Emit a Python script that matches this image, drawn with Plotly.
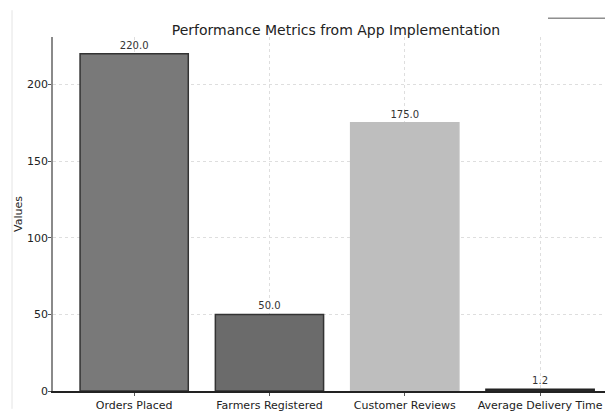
import plotly.graph_objects as go

categories = ["Orders Placed", "Farmers Registered", "Customer Reviews", "Average Delivery Time"]
values = [220.0, 50.0, 175.0, 1.2]
bar_colors = ["#797979", "#6b6b6b", "#bebebe", "#3a3a3a"]
edge_colors = ["#333333", "#333333", "#bebebe", "#222222"]
y_ticks = [0, 50, 100, 150, 200]

fig = go.Figure()
fig.add_trace(go.Bar(
    x=list(range(len(categories))),
    y=values,
    width=0.8,
    marker=dict(color=bar_colors, line=dict(color=edge_colors, width=1.5)),
    text=[f"{v:.1f}" for v in values],
    textposition="outside",
    textfont=dict(size=10, color="#333333", family="DejaVu Sans"),
    cliponaxis=False,
))

fig.update_layout(
    width=605, height=412,
    margin=dict(l=53, r=0, t=37, b=18),
    paper_bgcolor="white", plot_bgcolor="white",
    showlegend=False,
    font=dict(family="DejaVu Sans", size=11, color="#222222"),
    title=dict(text="Performance Metrics from App Implementation",
               x=336/605, xanchor="center", y=1-30/412, yanchor="middle",
               font=dict(size=14, color="#222222")),
    bargap=0.2,
)
fig.update_xaxes(
    range=[-0.6, 3.48],
    tickmode="array", tickvals=list(range(len(categories))), ticktext=categories,
    showgrid=True, gridcolor="#dedede", griddash="dot", gridwidth=1,
    showline=True, linecolor="#222222", linewidth=1.5,
    ticks="outside", ticklen=3, tickcolor="#555555",
    tickfont=dict(size=11), layer="above traces", zeroline=False,
)
fig.update_yaxes(
    range=[0, 231],
    tickmode="array", tickvals=y_ticks,
    showgrid=True, gridcolor="#dedede", griddash="dot", gridwidth=1,
    showline=True, linecolor="#8a8a8a", linewidth=1.5,
    ticks="outside", ticklen=3, tickcolor="#555555",
    tickfont=dict(size=11), ticklabelstandoff=-2,
    title=dict(text="Values", font=dict(size=11), standoff=2),
    layer="above traces", zeroline=False,
)
# faint frame artifacts in the reference
fig.add_shape(type="line", xref="paper", yref="paper",
              x0=-41/552, x1=-41/552, y0=-18/357, y1=(394-10)/357,
              line=dict(color="#e4e4e4", width=1))
fig.add_shape(type="line", xref="paper", yref="paper",
              x0=(548-53)/552, x1=1, y0=(394-18)/357, y1=(394-18)/357,
              line=dict(color="#555555", width=1))

fig.write_html("out.html")
